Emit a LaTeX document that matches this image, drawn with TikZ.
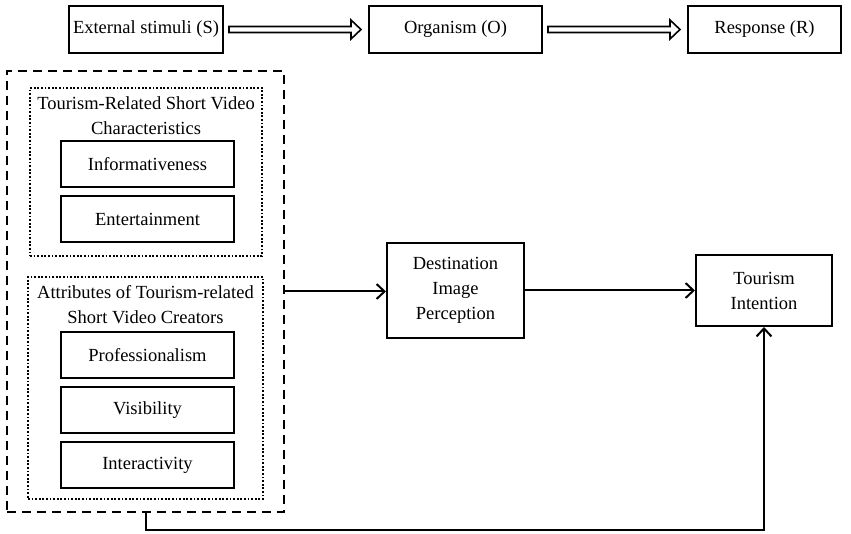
\documentclass[tikz,border=0pt]{standalone}
\usepackage{fontspec}
\setmainfont{Liberation Serif}
\usetikzlibrary{arrows.meta,calc}

% hollow block arrow between two nodes of the S-O-R row
\newcommand{\soarrow}[2]{%
    \draw[line width=1.6pt, line join=miter] let \p1=(#1.east), \p2=(#2.west) in
        (\x1+5pt,\y1+3pt) -- (\x2-17pt,\y1+3pt) -- (\x2-17pt,\y1+9.5pt) -- (\x2-7pt,\y1)
        -- (\x2-17pt,\y1-9.5pt) -- (\x2-17pt,\y1-3pt) -- (\x1+5pt,\y1-3pt) -- cycle;}

\begin{document}
\begin{tikzpicture}[x=1pt,y=-1pt,
    every node/.style={font=\fontsize{18.5}{25}\selectfont},
    box/.style={draw, line width=2pt, inner sep=0pt, align=center},
    inbox/.style={box, minimum width=173pt, minimum height=46pt},
    grpbox/.style={draw, line width=1.8pt, dash pattern=on 9pt off 6pt, inner sep=0pt},
    dotbox/.style={draw, line width=1.8pt, dash pattern=on 1.8pt off 1.8pt, inner sep=0pt},
    conn/.style={line width=2pt, -{Straight Barb[length=8pt,width=15pt,line width=2pt]}}]
    \useasboundingbox (0,0) rectangle (851,534);
    % S-O-R row
    \node[box, minimum width=154pt, minimum height=47pt] (s) at (146,29.5) {External stimuli (S)};
    \node[box, minimum width=173pt, minimum height=47pt] (o) at (455.5,29.5) {Organism (O)};
    \node[box, minimum width=153pt, minimum height=47pt] (r) at (764.5,29.5) {Response (R)};
    \soarrow{s}{o}
    \soarrow{o}{r}
    % stimuli group
    \node[grpbox, minimum width=277pt, minimum height=441pt] (stim) at (145.5,291.5) {};
    \node[dotbox, minimum width=232pt, minimum height=168pt] (vid) at (146,172) {};
    \node[align=center, inner sep=0pt] (vidtitle) at (146,115.5) {Tourism-Related Short Video\\Characteristics};
    \node[inbox] (info) at (147.5,164) {Informativeness};
    \node[inbox] (ent) at (147.5,219.5) {Entertainment};
    \node[dotbox, minimum width=235pt, minimum height=222pt] (cre) at (145.5,388) {};
    \node[align=center, inner sep=0pt] (cretitle) at (145.5,304.5) {Attributes of Tourism-related\\Short Video Creators};
    \node[inbox] (prof) at (147.5,355) {Professionalism};
    \node[inbox] (vis) at (147.5,410) {Visibility};
    \node[inbox] (inter) at (147.5,465) {Interactivity};
    % organism and response
    \node[box, minimum width=137pt, minimum height=95pt] (dip) at (455.5,290.5) {Destination\\Image\\Perception};
    \node[box, minimum width=136pt, minimum height=71pt] (ti) at (764,290.5) {Tourism\\Intention};
    \draw[conn] (stim.east) -- (stim.east -| dip.west);
    \draw[conn] (dip.east) -- (ti.west);
    \draw[conn] (stim.south) -- ++(0,17) -| (ti.south);
\end{tikzpicture}
\end{document}
